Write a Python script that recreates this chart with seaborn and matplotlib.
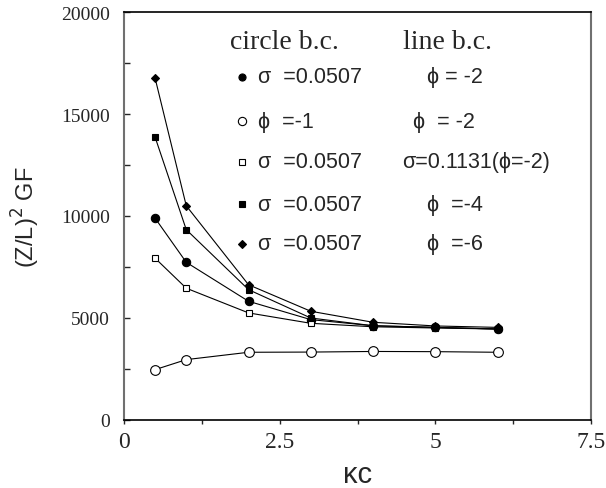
import matplotlib
matplotlib.use("Agg")
import matplotlib.pyplot as plt
import matplotlib.ticker as mticker
import seaborn as sns

# kappa*c values shared by every curve
kc = [0.5, 1, 2, 3, 4, 5, 6]

# (Z/L)^2 GF
gf_circle_filled = [9890, 7730, 5820, 4920, 4620, 4540, 4460]   # sigma=0.0507 / phi=-2
gf_circle_open = [2470, 2960, 3320, 3330, 3360, 3350, 3320]     # phi=-1 / phi=-2
gf_square_open = [7930, 6460, 5250, 4740, 4570, 4510, 4460]     # sigma=0.0507 / sigma=0.1131
gf_square_filled = [13860, 9330, 6390, 5000, 4620, 4540, 4460]  # sigma=0.0507 / phi=-4
gf_diamond = [16750, 10500, 6630, 5330, 4790, 4610, 4540]       # sigma=0.0507 / phi=-6

col1_labels = ["\u03c3  =0.0507", "\u03d5  =-1", "\u03c3  =0.0507", "\u03c3  =0.0507", "\u03c3  =0.0507"]
col2_labels = ["\u03d5 = -2", "\u03d5  = -2", "\u03c3=0.1131(\u03d5=-2)", "\u03d5  =-4", "\u03d5  =-6"]

SANS = ["Liberation Sans", "DejaVu Sans"]

sns.set_style("ticks")
plt.rcParams["font.family"] = ["Liberation Serif", "DejaVu Serif"]

fig = plt.figure(figsize=(6.06, 4.89), dpi=100)
fig.patch.set_facecolor("white")
ax = fig.add_axes([124 / 606, 1 - 421 / 489, 467 / 606, 408 / 489])

# marker styles: (marker, size, face)
styles = [
    ("o", 6, "black"),
    ("o", 7, "white"),
    ("s", 5, "white"),
    ("s", 4.5, "black"),
    ("D", 4.5, "black"),
]
series = [gf_circle_filled, gf_circle_open, gf_square_open, gf_square_filled, gf_diamond]

for vals, (mk, ms, fc) in zip(series, styles):
    sns.lineplot(x=kc, y=vals, ax=ax, color="black", lw=0.8,
                 marker=mk, markersize=ms, markerfacecolor=fc,
                 markeredgecolor="black", markeredgewidth=0.8)

ax.set_xlim(0, 7.5)
ax.set_ylim(0, 20000)
ax.xaxis.set_major_locator(mticker.MultipleLocator(2.5))
ax.xaxis.set_minor_locator(mticker.MultipleLocator(1.25))
ax.yaxis.set_major_locator(mticker.MultipleLocator(5000))
ax.yaxis.set_minor_locator(mticker.MultipleLocator(2500))
ax.xaxis.set_major_formatter(mticker.FuncFormatter(lambda v, p: f"{v:g}"))
ax.yaxis.set_major_formatter(mticker.FuncFormatter(lambda v, p: f"{v:.0f}"))

ax.tick_params(axis="x", which="both", direction="out", length=3, width=1, pad=5, labelsize=17)
ax.tick_params(axis="y", which="both", direction="in", length=4, width=1, pad=10, labelsize=14)

for side in ["top", "bottom"]:
    ax.spines[side].set_color("black")
    ax.spines[side].set_linewidth(1.2)
for side in ["left", "right"]:
    ax.spines[side].set_color("#707070")
    ax.spines[side].set_linewidth(1.5)

ax.set_xlabel("\u03bac", family=SANS, fontsize=21, labelpad=6)
ax.set_ylabel("(Z/L)$^2$ GF", family=SANS, fontsize=17, labelpad=14)

# legend block written as text
ax.text(0.227, 0.9265, "circle b.c.", transform=ax.transAxes, fontsize=20, va="center")
ax.text(0.597, 0.9265, "line b.c.", transform=ax.transAxes, fontsize=20, va="center")

row_y = [0.8407, 0.7328, 0.6324, 0.5294, 0.4314]
col2_x = [0.649, 0.619, 0.595, 0.649, 0.649]
for i, (mk, ms, fc) in enumerate(styles):
    ax.plot([0.2527], [row_y[i]], transform=ax.transAxes, marker=mk, ms=ms * 0.85,
            mfc=fc, mec="black", mew=0.8, ls="none", clip_on=False)
    ax.text(0.287, row_y[i], col1_labels[i], transform=ax.transAxes,
            family=SANS, fontsize=15.5, va="center")
    ax.text(col2_x[i], row_y[i], col2_labels[i], transform=ax.transAxes,
            family=SANS, fontsize=15.5, va="center")

fig.savefig("out.png", dpi=100, facecolor="white")
